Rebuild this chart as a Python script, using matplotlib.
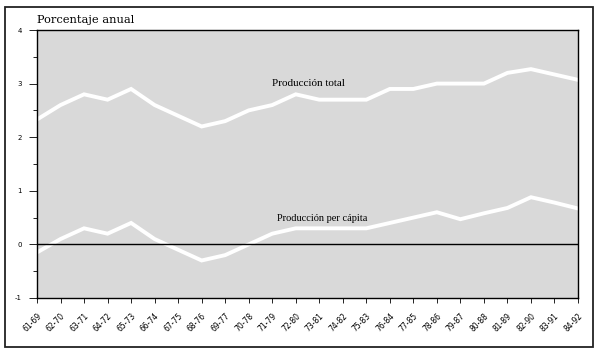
import matplotlib
matplotlib.use("Agg")
import matplotlib.pyplot as plt
from matplotlib.patches import Rectangle

periods = ["61-69", "62-70", "63-71", "64-72", "65-73", "66-74", "67-75", "68-76",
           "69-77", "70-78", "71-79", "72-80", "73-81", "74-82", "75-83", "76-84",
           "77-85", "78-86", "79-87", "80-88", "81-89", "82-90", "83-91", "84-92"]
produccion_total = [2.33, 2.6, 2.8, 2.7, 2.9, 2.6, 2.4, 2.2, 2.3, 2.5, 2.6, 2.8,
                    2.7, 2.7, 2.7, 2.9, 2.9, 3.0, 3.0, 3.0, 3.2, 3.27, 3.17, 3.07]
produccion_per_capita = [-0.15, 0.1, 0.3, 0.2, 0.4, 0.1, -0.1, -0.3, -0.2, 0.0, 0.2, 0.3,
                         0.3, 0.3, 0.3, 0.4, 0.5, 0.6, 0.47, 0.58, 0.68, 0.88, 0.78, 0.67]
y_ticks = [-1, 0, 1, 2, 3, 4]

fig = plt.figure(figsize=(6.0, 3.56), dpi=100)
fig.patch.set_facecolor("white")
fig.add_artist(Rectangle((5/600, 1-347/356), (593-5)/600, (347-7)/356,
                         transform=fig.transFigure, fill=False, edgecolor="#222222", lw=1.3))

ax = fig.add_axes([37/600, 1-298/356, (578-37)/600, (298-30)/356])
ax.set_facecolor("#d9d9d9")
x = list(range(len(periods)))
ax.plot(x, produccion_total, color="white", lw=2.8, solid_joinstyle="miter")
ax.plot(x, produccion_per_capita, color="white", lw=2.8, solid_joinstyle="miter")
ax.axhline(0, color="black", lw=1.0)

ax.set_xlim(0, len(periods) - 1)
ax.set_ylim(-1, 4)
ax.set_yticks(y_ticks)
ax.set_yticklabels([str(v) for v in y_ticks], fontsize=5, family="DejaVu Sans")
ax.set_yticks([-0.5, 0.5, 1.5, 2.5, 3.5], minor=True)
ax.tick_params(axis="y", which="major", length=6, width=0.6, pad=5)
ax.tick_params(axis="y", which="minor", length=3, width=0.6)
ax.set_xticks(x)
ax.set_xticklabels(periods, rotation=45, ha="right", rotation_mode="anchor",
                   fontsize=5.5, family="DejaVu Sans")
ax.tick_params(axis="x", length=3.5, width=0.6, pad=6)
for s in ax.spines.values():
    s.set_linewidth(1.0)

ax.text(10.0, 3.0, "Producción total", fontsize=8, family="Liberation Serif",
        ha="left", va="center")
ax.text(10.2, 0.48, "Producción per cápita", fontsize=7.5, family="Liberation Serif",
        ha="left", va="center")

fig.text(37/600, 1-20/356, "Porcentaje anual", fontsize=8.2, family="DejaVu Serif",
         ha="left", va="center")

fig.savefig("out.png", dpi=100)
